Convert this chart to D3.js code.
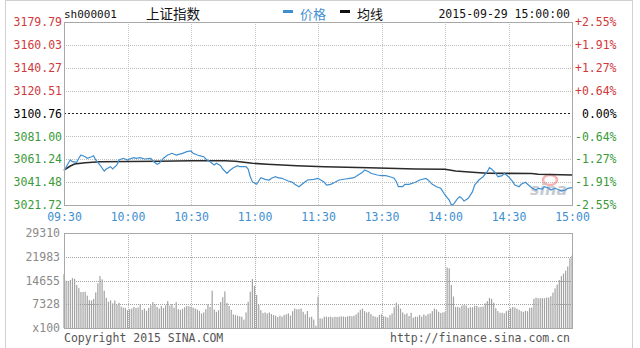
<!DOCTYPE html>
<html>
<head>
<meta charset="utf-8">
<script src="https://cdn.jsdelivr.net/npm/d3@7"></script>
<style>
body { margin: 0; background: #fff; }
</style>
</head>
<body>
<script>
const panel_width = 640;
const panel_height = 348;

const prevClose = 3100.76;
const timeTicks = [0, 30, 60, 90, 120, 150, 180, 210, 240];
const timeLabels = ["09:30", "10:00", "10:30", "11:00", "11:30", "13:30", "14:00", "14:30", "15:00"];
const priceTicks = [3179.79, 3160.03, 3140.27, 3120.51, 3100.76, 3081.00, 3061.24, 3041.48, 3021.72];
const pctLabels = ["+2.55%", "+1.91%", "+1.27%", "+0.64%", "0.00%", "-0.64%", "-1.27%", "-1.91%", "-2.55%"];
const volTicks = [29310, 21983, 14655, 7328, 0];
const volLabels = ["29310", "21983", "14655", "7328", "x100"];

// minute index (0 = 09:30, 240 = 15:00) and price
const priceMinutes = [0, 2, 3, 4, 6, 7, 8, 10, 11, 13, 14, 15, 17, 19, 20, 22, 23, 25, 26, 28,
    30, 31, 33, 34, 36, 38, 41, 42, 44, 45, 47, 49, 51, 53, 56, 58, 60, 61, 63, 64,
    66, 67, 69, 71, 72, 74, 75, 77, 78, 80, 82, 83, 86, 87, 88, 89, 91, 92, 93, 95,
    97, 98, 100, 101, 103, 104, 106, 108, 109, 111, 112, 114, 115, 118, 120, 123, 124, 126, 128, 130,
    133, 135, 137, 139, 141, 142, 144, 145, 148, 150, 152, 154, 156, 157, 158, 160, 161, 163, 166, 168,
    171, 172, 174, 176, 178, 180, 182, 183, 184, 186, 187, 188, 189, 191, 193, 194, 196, 198, 200, 201,
    202, 204, 205, 207, 208, 210, 212, 213, 215, 216, 218, 219, 221, 223, 224, 226, 227, 229, 230, 232,
    234, 235, 237, 238, 240];
const priceValues = [3051.09, 3057.74, 3060.59, 3059.12, 3058.60, 3062.06, 3064.91, 3063.44, 3062.06, 3063.44,
    3064.30, 3060.59, 3056.27, 3051.09, 3052.81, 3054.80, 3052.81, 3056.27, 3060.59, 3062.06,
    3060.59, 3061.45, 3062.57, 3062.06, 3062.57, 3061.45, 3062.06, 3059.72, 3056.87, 3057.74,
    3062.06, 3064.91, 3066.37, 3064.91, 3066.37, 3067.76, 3068.36, 3066.37, 3064.91, 3064.30,
    3063.44, 3061.45, 3059.12, 3056.27, 3057.74, 3055.66, 3052.81, 3049.10, 3051.09, 3053.94,
    3055.66, 3054.80, 3054.80, 3052.81, 3046.16, 3041.84, 3039.60, 3042.45, 3045.30, 3043.92,
    3043.31, 3044.78, 3046.16, 3045.30, 3044.78, 3043.92, 3042.45, 3041.32, 3039.60, 3037.52,
    3038.99, 3041.84, 3043.31, 3043.92, 3044.78, 3041.32, 3038.99, 3039.60, 3041.32, 3043.31,
    3044.18, 3044.78, 3045.30, 3047.63, 3049.96, 3051.95, 3050.48, 3049.10, 3047.63, 3047.03,
    3047.03, 3046.16, 3044.78, 3041.84, 3037.52, 3037.52, 3039.60, 3039.60, 3041.32, 3043.31,
    3044.78, 3043.31, 3039.60, 3037.52, 3036.14, 3030.35, 3026.04, 3021.72, 3022.32, 3027.50,
    3028.89, 3027.50, 3025.17, 3027.50, 3033.21, 3038.99, 3043.31, 3046.16, 3050.48, 3053.94,
    3052.81, 3049.10, 3046.16, 3047.03, 3049.10, 3046.16, 3041.84, 3038.99, 3037.52, 3039.60,
    3041.32, 3039.60, 3036.66, 3034.67, 3036.14, 3035.54, 3037.52, 3036.14, 3034.67, 3036.14,
    3034.67, 3033.81, 3034.67, 3036.14, 3036.66];

const avgMinutes = [0, 3, 5, 10, 17, 31, 45, 60, 76, 81, 89, 96, 110, 123, 144, 153, 166, 180, 185, 193, 200, 221, 224, 240];
const avgValues = [3051.95, 3055.40, 3057.13, 3058.26, 3059.12, 3059.29, 3059.55, 3059.98, 3059.90, 3059.46,
    3057.74, 3056.87, 3055.66, 3054.80, 3053.94, 3053.42, 3052.81, 3052.55, 3051.09, 3049.96,
    3049.10, 3048.93, 3048.23, 3047.63];

// volume per minute, in lots of 100
const volumes = [16600, 14600, 14500, 14800, 15400, 15200, 13300, 12300, 11100, 11100,
    11200, 10000, 8600, 8500, 9000, 11000, 13800, 16000, 15000, 11500,
    9300, 8100, 8500, 7600, 8500, 7100, 7800, 6600, 6300, 6200,
    5500, 5800, 6000, 6500, 6200, 6300, 7300, 5600, 6000, 5300,
    6200, 7000, 8000, 7300, 6500, 6000, 6800, 6200, 7000, 8300,
    6900, 7400, 6300, 8000, 5800, 5600, 5900, 6400, 6800, 6700,
    6600, 6300, 6000, 5700, 5300, 4500, 4800, 5800, 7300, 6500,
    11500, 5700, 5000, 5500, 8000, 9500, 11300, 7700, 6800, 5600,
    4200, 4000, 3800, 3600, 3500, 2600, 4800, 8100, 11200, 15100,
    13000, 10200, 7100, 5500, 4600, 4800, 4500, 4800, 4300, 4000,
    3800, 3400, 3800, 3500, 4000, 4200, 4500, 3800, 5200, 6000,
    5800, 5800, 6000, 5000, 4200, 5200, 3300, 3500, 2600, 700,
    9700, 3000, 2900, 3500, 3500, 3400, 3500, 3300, 3500, 3400,
    3500, 3600, 3500, 3400, 3600, 3700, 3600, 3800, 4200, 4800,
    5600, 6000, 5200, 4800, 5000, 4300, 3700, 3500, 3300, 4000,
    4200, 3600, 3500, 3200, 4000, 4500, 6400, 7800, 7000, 6000,
    4800, 4200, 4500, 3700, 4700, 3200, 3500, 3500, 4000, 3500,
    4200, 3800, 4300, 4500, 5200, 6000, 5700, 5000, 4600, 4800,
    5000, 18700, 18400, 13300, 9700, 6500, 6500, 6300, 6900, 7100,
    6900, 6200, 6400, 6400, 6900, 6800, 6400, 6500, 6600, 7600,
    8300, 9300, 9000, 7800, 6100, 5200, 4700, 4700, 4500, 5200,
    5500, 6100, 6500, 6300, 6000, 5600, 5200, 5000, 5300, 5200,
    6200, 6300, 9000, 9400, 9200, 9200, 9200, 9200, 9400, 9400,
    9800, 10900, 12200, 13400, 14800, 16000, 16800, 17700, 19000, 21500,
    22300];

const mono = "'DejaVu Sans Mono', monospace";
const cjk = "'Noto Sans CJK SC', sans-serif";
const red = "#d0393b";
const green = "#3a9a3a";
const blue = "#3f8fd0";

window.addEventListener("load", drawChart);

function levelColor(v) {
    if (Math.abs(v - prevClose) < 0.005) return "#000";
    return v > prevClose ? red : green;
}

function drawChart() {
    const svg = d3.select("body")
        .append("svg")
        .attr("width", panel_width)
        .attr("height", panel_height);

    const left = 64, right = 572;
    const pTop = 22, pBottom = 205;
    const vTop = 233, vBottom = 328;

    const x = d3.scaleLinear().domain([0, 240]).range([left, right]);
    const y = d3.scaleLinear().domain([3021.72, 3179.79]).range([pBottom, pTop]);
    const yv = d3.scaleLinear().domain([0, 29310]).range([vBottom, vTop]);

    // outer frame
    svg.append("rect")
        .attr("x", 5.5).attr("y", 0.5)
        .attr("width", 627).attr("height", 360)
        .attr("fill", "none").attr("stroke", "#d0d0d0");

    // ---- price panel grid
    const pg = svg.append("g");
    pg.selectAll(".vg").data(timeTicks.slice(1, -1)).enter().append("line")
        .attr("x1", d => Math.round(x(d)) + 0.5).attr("x2", d => Math.round(x(d)) + 0.5)
        .attr("y1", pTop).attr("y2", pBottom)
        .attr("stroke", "#c8c8c8").attr("stroke-dasharray", "1,1");
    pg.selectAll(".hg").data(priceTicks.slice(1, -1)).enter().append("line")
        .attr("x1", left).attr("x2", right)
        .attr("y1", d => Math.round(y(d)) + 0.5).attr("y2", d => Math.round(y(d)) + 0.5)
        .attr("stroke", d => d === prevClose ? "#222" : "#bdbdbd")
        .attr("stroke-width", d => d === prevClose ? 1.2 : 1)
        .attr("stroke-dasharray", d => d === prevClose ? "2,2" : "1,1");

    // watermark
    const wm = svg.append("g").attr("opacity", 0.55);
    wm.append("ellipse").attr("cx", 550).attr("cy", 180).attr("rx", 7).attr("ry", 5)
        .attr("fill", "none").attr("stroke", "#e77").attr("stroke-width", 2.5);
    wm.append("text").attr("x", 530).attr("y", 195)
        .attr("font-family", "'DejaVu Sans', sans-serif").attr("font-size", 16)
        .attr("font-weight", "bold").attr("font-style", "italic")
        .attr("fill", "#9aa0b0").text("sina");

    // lines
    const avgData = avgMinutes.map((t, i) => ({ t: t, p: avgValues[i] }));
    const priceData = priceMinutes.map((t, i) => ({ t: t, p: priceValues[i] }));
    const line = d3.line().x(d => x(d.t)).y(d => y(d.p));

    svg.append("path").datum(avgData)
        .attr("d", line).attr("fill", "none")
        .attr("stroke", "#2a2a2a").attr("stroke-width", 1.6);
    svg.append("path").datum(priceData)
        .attr("d", line).attr("fill", "none")
        .attr("stroke", blue).attr("stroke-width", 1.2);

    svg.append("rect")
        .attr("x", left + 0.5).attr("y", pTop + 0.5)
        .attr("width", right - left).attr("height", pBottom - pTop)
        .attr("fill", "none").attr("stroke", "#a8a8a8");

    // axes of price panel
    const yl = svg.append("g")
        .attr("transform", `translate(${left},0)`)
        .call(d3.axisLeft(y).tickValues(priceTicks).tickSize(0).tickPadding(2).tickFormat(d3.format(".2f")));
    yl.select(".domain").remove();
    yl.selectAll("text").attr("font-family", mono).attr("font-size", 11.5).attr("fill", d => levelColor(d));

    const yr = svg.append("g")
        .attr("transform", `translate(${right},0)`)
        .call(d3.axisRight(y).tickValues(priceTicks).tickSize(0).tickPadding(3)
            .tickFormat((d, i) => pctLabels[i]));
    yr.select(".domain").remove();
    yr.selectAll("text").attr("font-family", mono).attr("font-size", 11.5)
        .attr("fill", d => levelColor(d))
        .attr("dx", d => Math.abs(d - prevClose) < 0.005 ? 7 : 0);

    const xa = svg.append("g")
        .attr("transform", `translate(0,${pBottom})`)
        .call(d3.axisBottom(x).tickValues(timeTicks).tickSize(0).tickPadding(8)
            .tickFormat((d, i) => timeLabels[i]));
    xa.select(".domain").remove();
    xa.selectAll("text").attr("font-family", mono).attr("font-size", 11.5).attr("fill", blue);

    // ---- volume panel
    svg.append("g").selectAll("rect").data(volumes).enter().append("rect")
        .attr("x", (d, i) => x(i) - 0.6)
        .attr("y", d => yv(d))
        .attr("width", 1.2)
        .attr("height", d => vBottom - yv(d))
        .attr("fill", "#a2a2a2");

    const vg = svg.append("g");
    vg.selectAll(".vg").data(timeTicks.slice(1, -1)).enter().append("line")
        .attr("x1", d => Math.round(x(d)) + 0.5).attr("x2", d => Math.round(x(d)) + 0.5)
        .attr("y1", vTop).attr("y2", vBottom)
        .attr("stroke", "#b0b0b0").attr("stroke-dasharray", "1,1");
    vg.selectAll(".hg").data(volTicks.slice(1, -1)).enter().append("line")
        .attr("x1", left).attr("x2", right)
        .attr("y1", d => Math.round(yv(d)) + 0.5).attr("y2", d => Math.round(yv(d)) + 0.5)
        .attr("stroke", "#a0a0a0").attr("stroke-dasharray", "1,1");

    svg.append("rect")
        .attr("x", left + 0.5).attr("y", vTop + 0.5)
        .attr("width", right - left).attr("height", vBottom - vTop)
        .attr("fill", "none").attr("stroke", "#a8a8a8");

    const va = svg.append("g")
        .attr("transform", `translate(${left},0)`)
        .call(d3.axisLeft(yv).tickValues(volTicks).tickSize(0).tickPadding(4)
            .tickFormat((d, i) => volLabels[i]));
    va.select(".domain").remove();
    va.selectAll("text").attr("font-family", mono).attr("font-size", 11.5).attr("fill", "#8a8a8a");

    // ---- header and footer texts
    svg.append("text").attr("x", 64).attr("y", 18)
        .attr("font-family", mono).attr("font-size", 11).attr("fill", "#111")
        .text("sh000001");
    svg.append("text").attr("x", 146).attr("y", 19)
        .attr("font-family", cjk).attr("font-size", 13.5).attr("fill", "#111")
        .text("上证指数");

    svg.append("rect").attr("x", 283).attr("y", 10).attr("width", 10).attr("height", 3).attr("fill", blue);
    svg.append("text").attr("x", 300).attr("y", 18.5)
        .attr("font-family", cjk).attr("font-size", 13).attr("fill", blue)
        .text("价格");
    svg.append("rect").attr("x", 340).attr("y", 10).attr("width", 10).attr("height", 3).attr("fill", "#111");
    svg.append("text").attr("x", 357).attr("y", 18.5)
        .attr("font-family", cjk).attr("font-size", 13).attr("fill", "#111")
        .text("均线");

    svg.append("text").attr("x", 570).attr("y", 18)
        .attr("text-anchor", "end")
        .attr("font-family", mono).attr("font-size", 11.5).attr("fill", "#111")
        .text("2015-09-29 15:00:00");

    svg.append("text").attr("x", 64).attr("y", 341.5)
        .attr("font-family", mono).attr("font-size", 11.5).attr("fill", "#555")
        .text("Copyright 2015 SINA.COM");
    svg.append("text").attr("x", 570).attr("y", 341.5)
        .attr("text-anchor", "end")
        .attr("font-family", mono).attr("font-size", 11.5).attr("fill", "#555")
        .text("http://finance.sina.com.cn");
}
</script>
</body>
</html>
